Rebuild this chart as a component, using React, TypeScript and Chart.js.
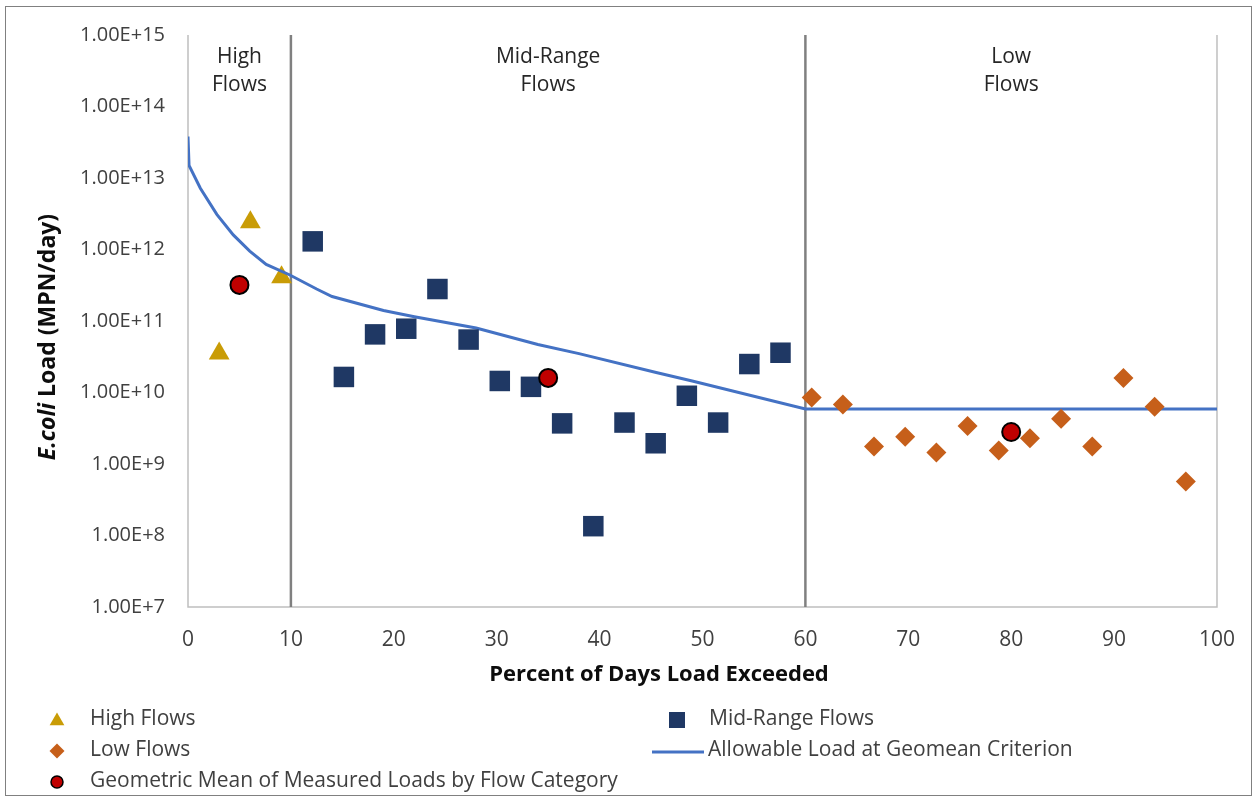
import React, { useEffect, useRef } from "react";
import { Chart, registerables } from "chart.js";
Chart.register(...registerables);

const W = 1255;
const H = 798;
const FONT = "'Open Sans', 'DejaVu Sans', sans-serif";

// ---- data ----
const highX = [3.03, 6.06, 9.09];
const highY = [3.5e10, 2.4e12, 4.1e11];

const midX = [12.12, 15.15, 18.18, 21.21, 24.24, 27.27, 30.3, 33.33, 36.36, 39.39, 42.42, 45.45, 48.48, 51.52, 54.55, 57.58];
const midY = [1.3e12, 1.65e10, 6.5e10, 7.8e10, 2.8e11, 5.5e10, 1.45e10, 1.2e10, 3.7e9, 1.35e8, 3.8e9, 1.95e9, 9e9, 3.8e9, 2.5e10, 3.6e10];

const lowX = [60.61, 63.64, 66.67, 69.7, 72.73, 75.76, 78.79, 81.82, 84.85, 87.88, 90.91, 93.94, 96.97];
const lowY = [8.5e9, 6.8e9, 1.75e9, 2.4e9, 1.45e9, 3.4e9, 1.55e9, 2.3e9, 4.3e9, 1.75e9, 1.6e10, 6.3e9, 5.7e8];

const geoX = [5, 35, 80];
const geoY = [3.2e11, 1.6e10, 2.8e9];

const allowX = [0, 0.1, 1.2, 2.8, 4.4, 6, 7.6, 9.9, 12.5, 14, 19, 22, 28, 34, 38, 45.5, 49, 60, 100];
const allowY = [3.8e13, 1.5e13, 7.2e12, 3.1e12, 1.6e12, 9.5e11, 6.2e11, 4.4e11, 2.8e11, 2.2e11, 1.4e11, 1.15e11, 8e10, 4.7e10, 3.5e10, 1.9e10, 1.45e10, 5.9e9, 5.9e9];

const yTicks = [1e7, 1e8, 1e9, 1e10, 1e11, 1e12, 1e13, 1e14, 1e15];
const zoneBounds = [10, 60];
const zoneLabelAt = [5, 35, 80];
const zoneLabelLines = [["High", "Flows"], ["Mid-Range", "Flows"], ["Low", "Flows"]];

const C_HIGH = "#C99C06";
const C_MID = "#1F3864";
const C_LOW = "#C65F1A";
const C_GEO = "#C00000";
const C_LINE = "#4472C4";

const pts = (xs: number[], ys: number[]) => xs.map((x, i) => ({ x, y: ys[i] }));

function marker(ctx: CanvasRenderingContext2D, kind: string, x: number, y: number, r: number, fill: string, stroke?: string, bw?: number) {
  ctx.save();
  ctx.beginPath();
  if (kind === "triangle") {
    ctx.moveTo(x, y - r);
    ctx.lineTo(x + r * Math.cos(Math.PI / 6), y + r / 2);
    ctx.lineTo(x - r * Math.cos(Math.PI / 6), y + r / 2);
    ctx.closePath();
  } else if (kind === "rect") {
    ctx.rect(x - r, y - r, 2 * r, 2 * r);
  } else if (kind === "rectRot") {
    ctx.moveTo(x - r, y);
    ctx.lineTo(x, y - r);
    ctx.lineTo(x + r, y);
    ctx.lineTo(x, y + r);
    ctx.closePath();
  } else {
    ctx.arc(x, y, r, 0, Math.PI * 2);
  }
  ctx.fillStyle = fill;
  ctx.fill();
  if (stroke) {
    ctx.strokeStyle = stroke;
    ctx.lineWidth = bw || 1;
    ctx.stroke();
  }
  ctx.restore();
}

const overlay = {
  id: "overlay",
  beforeDatasetsDraw(chart: any) {
    const { ctx, chartArea: a, scales } = chart;
    const x = scales.x;
    ctx.save();
    ctx.strokeStyle = "#BFBFBF";
    ctx.lineWidth = 1.5;
    ctx.beginPath();
    ctx.moveTo(x.getPixelForValue(0), a.top);
    ctx.lineTo(x.getPixelForValue(0), a.bottom);
    ctx.lineTo(x.getPixelForValue(100), a.bottom);
    ctx.lineTo(x.getPixelForValue(100), a.top);
    ctx.stroke();

    ctx.strokeStyle = "#808080";
    ctx.lineWidth = 2.5;
    zoneBounds.forEach((b) => {
      const px = x.getPixelForValue(b);
      ctx.beginPath();
      ctx.moveTo(px, a.top);
      ctx.lineTo(px, a.bottom);
      ctx.stroke();
    });

    ctx.fillStyle = "#262626";
    ctx.font = `21px ${FONT}`;
    ctx.textAlign = "center";
    ctx.textBaseline = "middle";
    zoneLabelAt.forEach((v, i) => {
      zoneLabelLines[i].forEach((t, j) => {
        ctx.fillText(t, x.getPixelForValue(v), a.top + 22 + j * 28);
      });
    });
    ctx.restore();
  },
  afterDraw(chart: any) {
    const { ctx } = chart;
    ctx.save();
    // outer frame
    ctx.strokeStyle = "#808080";
    ctx.lineWidth = 1;
    ctx.strokeRect(5.5, 6.5, 1246, 789);

    // x title
    ctx.fillStyle = "#0D0D0D";
    ctx.font = `bold 22px ${FONT}`;
    ctx.textAlign = "center";
    ctx.textBaseline = "middle";
    ctx.fillText("Percent of Days Load Exceeded", 659, 675);

    // y title
    ctx.save();
    ctx.translate(48, 337);
    ctx.rotate(-Math.PI / 2);
    const f1 = `italic bold 23px ${FONT}`;
    const f2 = `bold 23px ${FONT}`;
    const t1 = "E.coli";
    const t2 = " Load (MPN/day)";
    ctx.font = f1;
    const w1 = ctx.measureText(t1).width;
    ctx.font = f2;
    const w2 = ctx.measureText(t2).width;
    const start = -(w1 + w2) / 2;
    ctx.textAlign = "left";
    ctx.font = f1;
    ctx.fillText(t1, start, 0);
    ctx.font = f2;
    ctx.fillText(t2, start + w1, 0);
    ctx.restore();

    // legend
    ctx.font = `21px ${FONT}`;
    ctx.fillStyle = "#404040";
    ctx.textAlign = "left";
    ctx.textBaseline = "middle";
    marker(ctx, "triangle", 57, 721, 8.5, C_HIGH);
    ctx.fillText("High Flows", 90, 719);
    marker(ctx, "rectRot", 57, 751, 7.5, C_LOW);
    ctx.fillText("Low Flows", 90, 750);
    marker(ctx, "circle", 57, 782, 6, C_GEO, "#000", 1.5);
    ctx.fillText("Geometric Mean of Measured Loads by Flow Category", 90, 781);
    marker(ctx, "rect", 677, 720, 8, C_MID);
    ctx.fillText("Mid-Range Flows", 709, 719);
    ctx.strokeStyle = C_LINE;
    ctx.lineWidth = 3;
    ctx.beginPath();
    ctx.moveTo(652, 752);
    ctx.lineTo(704, 752);
    ctx.stroke();
    ctx.fillStyle = "#404040";
    ctx.fillText("Allowable Load at Geomean Criterion", 708, 750);
    ctx.restore();
  },
};

export default function App() {
  const ref = useRef<HTMLCanvasElement>(null);
  useEffect(() => {
    document.body.style.margin = "0";
    const chart = new Chart(ref.current as HTMLCanvasElement, {
      type: "scatter",
      data: {
        datasets: [
          {
            label: "Geometric Mean of Measured Loads by Flow Category",
            data: pts(geoX, geoY),
            pointStyle: "circle",
            pointRadius: 9,
            pointBackgroundColor: C_GEO,
            pointBorderColor: "#000000",
            pointBorderWidth: 2,
            order: 0,
          },
          {
            label: "Low Flows",
            data: pts(lowX, lowY),
            pointStyle: "rectRot",
            pointRadius: 10,
            pointBackgroundColor: C_LOW,
            pointBorderWidth: 0,
            order: 1,
          },
          {
            label: "Mid-Range Flows",
            data: pts(midX, midY),
            pointStyle: "rect",
            pointRadius: 14.5,
            pointBackgroundColor: C_MID,
            pointBorderWidth: 0,
            order: 2,
          },
          {
            label: "Allowable Load at Geomean Criterion",
            data: pts(allowX, allowY),
            showLine: true,
            pointRadius: 0,
            borderColor: C_LINE,
            borderWidth: 3,
            fill: false,
            order: 3,
          },
          {
            label: "High Flows",
            data: pts(highX, highY),
            pointStyle: "triangle",
            pointRadius: 12,
            pointBackgroundColor: C_HIGH,
            pointBorderWidth: 0,
            order: 4,
          },
        ] as any,
      },
      options: {
        responsive: false,
        animation: false,
        devicePixelRatio: 1,
        layout: { padding: { left: 0, right: 32, top: 33, bottom: 0 } },
        plugins: { legend: { display: false }, tooltip: { enabled: false } },
        elements: { point: { hoverRadius: 0 } },
        scales: {
          x: {
            type: "linear",
            min: 0,
            max: 100,
            ticks: { stepSize: 10, color: "#404040", font: { family: FONT, size: 21 }, padding: 20 },
            grid: { display: false, drawTicks: false },
            border: { display: false },
            afterFit: (s: any) => {
              s.height = 191;
            },
          },
          y: {
            type: "logarithmic",
            min: 1e7,
            max: 1e15,
            afterBuildTicks: (s: any) => {
              s.ticks = yTicks.map((v) => ({ value: v }));
            },
            ticks: {
              autoSkip: false,
              color: "#404040",
              font: { family: FONT, size: 20 },
              padding: 23,
              callback: (v: any) => Number(v).toExponential(2).toUpperCase(),
            },
            grid: { display: false, drawTicks: false },
            border: { display: false },
            afterFit: (s: any) => {
              s.width = 188;
            },
          },
        },
      } as any,
      plugins: [overlay],
    });
    return () => chart.destroy();
  }, []);
  return (
    <div style={{ position: "relative", width: W, height: H, background: "#ffffff" }}>
      <canvas ref={ref} width={W} height={H} style={{ display: "block", width: W, height: H }} />
    </div>
  );
}
